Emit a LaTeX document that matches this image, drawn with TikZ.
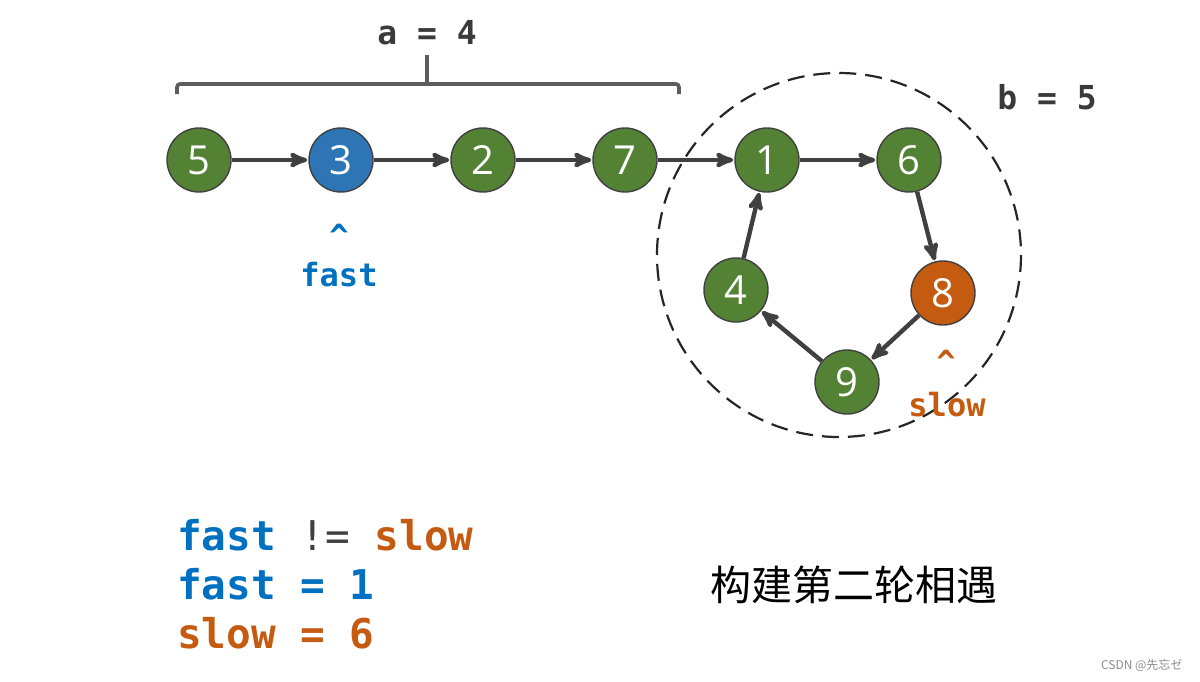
\documentclass[tikz,border=0pt]{standalone}
\usepackage{fontspec}
\setmainfont{Open Sans}
\setmonofont{DejaVu Sans Mono}
\newfontfamily\cjk{Noto Sans CJK SC}
\usetikzlibrary{arrows,positioning}

\definecolor{nodegreen}{HTML}{548235}
\definecolor{nodeblue}{HTML}{2E75B6}
\definecolor{nodeorange}{HTML}{C55A11}
\definecolor{fastblue}{HTML}{0070C0}
\definecolor{sloworange}{HTML}{C55A11}
\definecolor{darkline}{HTML}{404040}

\begin{document}
\begin{tikzpicture}[x=1pt,y=-1pt,->,>=stealth',shorten >=1pt,node distance=142pt,
			list node/.style={circle,fill=nodegreen,draw=darkline,line width=1.4pt,
				text=white,font=\fontsize{40}{40}\selectfont,minimum size=64pt,inner sep=0pt},
			fast node/.style={list node,fill=nodeblue},
			slow node/.style={list node,fill=nodeorange},
			len label/.style={font=\fontsize{33}{33}\selectfont\ttfamily\bfseries,
				text=darkline!90!black,anchor=base},
			ptr label/.style={font=\fontsize{32}{32}\selectfont\ttfamily\bfseries,anchor=base},
			code line/.style={font=\fontsize{41}{41}\selectfont\ttfamily\bfseries,
				anchor=base west,inner sep=0pt}
			]
			\useasboundingbox (0,0) rectangle (1200,681);
			
			% loop outline
			\draw[-,line width=2.2pt,dash pattern=on 17pt off 9pt,color=black!85]
				(839,255) circle (182);
			
			% straight part
			\node[list node] (N5) at (199,160) {5};
			\node[fast node] (N3) [right of=N5] {3};
			\node[list node] (N2) [right of=N3] {2};
			\node[list node] (N7) [right of=N2] {7};
			% cycle part
			\node[list node] (N1) [right of=N7] {1};
			\node[list node] (N6) [right of=N1] {6};
			\node[slow node] (N8) at (943,293) {8};
			\node[list node] (N9) at (847,382) {9};
			\node[list node] (N4) at (736,290) {4};
			
			\path[draw=darkline,line width=4.4pt]
			(N5) edge (N3)
			(N3) edge (N2)
			(N2) edge (N7)
			(N7) edge (N1)
			(N1) edge (N6)
			(N6) edge (N8)
			(N8) edge (N9)
			(N9) edge (N4)
			(N4) edge (N1)
			;
			
			% brace over a
			\coordinate (BL) at (177,94);
			\coordinate (BR) at (679,94);
			\coordinate (BT) at (427,55);
			\draw[-,shorten >=0pt,line width=3.6pt,color=darkline!85,rounded corners=3pt]
				(BL) -- (177,84) -- (679,84) -- (BR);
			\draw[-,shorten >=0pt,line width=3.6pt,color=darkline!85] (BT) -- (427,84);
			
			\node[len label] (A) at (427,44) {a = 4};
			\node[len label] (B) at (1047,109) {b = 5};
			
			% pointers
			\node[ptr label,text=fastblue] (FC) at (339,247) {\^{}};
			\node[ptr label,text=fastblue] (FT) at (339,286) {fast};
			\node[ptr label,text=sloworange] (SC) at (946,373) {\^{}};
			\node[ptr label,text=sloworange] (ST) at (947,416) {slow};
			
			% state after second meeting
			\node[code line] (L1) at (177,550) {\textcolor{fastblue}{fast} \textcolor{darkline}{\mdseries!=} \textcolor{sloworange}{slow}};
			\node[code line,text=fastblue] (L2) at (177,599) {fast = 1};
			\node[code line,text=sloworange] (L3) at (177,648) {slow = 6};
			
			\node[font=\fontsize{41}{41}\selectfont\cjk,text=black] (T) at (854,585) {构建第二轮相遇};
			\node[font=\fontsize{12}{12}\selectfont\cjk,text=black!45,anchor=east] (W) at (1186,665) {CSDN @先忘ゼ};
			
		\end{tikzpicture}
\end{document}
